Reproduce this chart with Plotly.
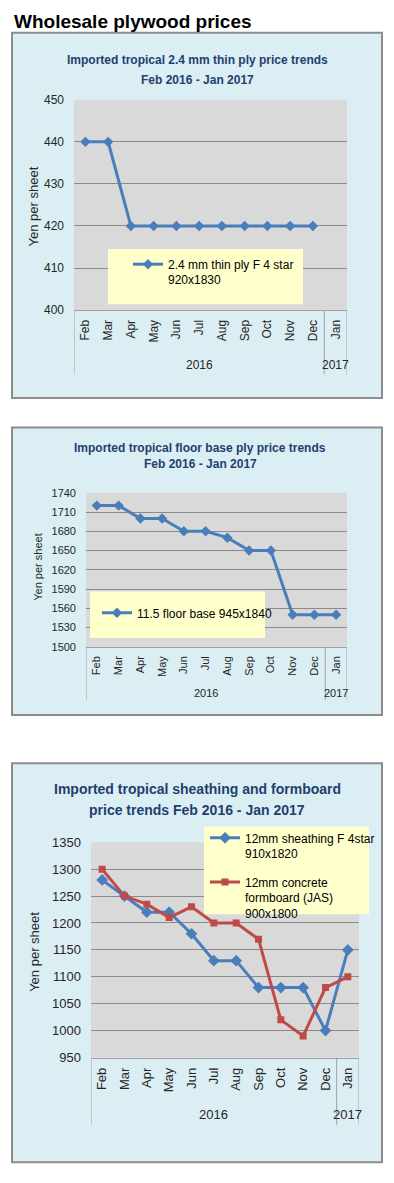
import plotly.graph_objects as go

# ---------------- data ----------------
months = ["Feb", "Mar", "Apr", "May", "Jun", "Jul", "Aug", "Sep", "Oct", "Nov", "Dec", "Jan"]
year_labels = ["2016", "2017"]
thin_ply = [440, 440, 420, 420, 420, 420, 420, 420, 420, 420, 420, None]
floor_base = [1720, 1720, 1700, 1700, 1680, 1680, 1670, 1650, 1650, 1550, 1550, 1550]
sheathing = [1280, 1250, 1220, 1220, 1180, 1130, 1130, 1080, 1080, 1080, 1000, 1150]
formboard = [1300, 1250, 1235, 1210, 1230, 1200, 1200, 1170, 1020, 990, 1080, 1100]

W, H = 394, 1183
def px(x): return x / W
def py(y): return 1 - y / H

FONT = "Liberation Sans, Arial, sans-serif"
BFONT = "Liberation Sans, Arial, sans-serif"
BLUE = "#4A7EBB"
RED = "#BE4B48"
TITLE_C = "#1F3F6E"
BOX_BG = "#DBEEF4"
PLOT_BG = "#D9D9D9"
GRID = "#8A8A8A"
TXT = "#262626"

charts = [
    dict(box=(12, 26, 382, 396), plot=(74, 94, 347, 307), yr=(400, 450), dt=10,
         title=["Imported tropical 2.4 mm thin ply price trends", "Feb 2016 - Jan 2017"],
         ty=(54, 74), tx=198, tsize=12, tick=12, mtick=12,
         leg=(108, 245, 303, 301), legpos=(128, 246), legsize=12,
         year_y=363, line_bot=372, ytitle=(33, 202), ysize=13,
         series=[("2.4 mm thin ply F 4 star<br>920x1830", thin_ply, BLUE, "diamond", 8)]),
    dict(box=(12, 426, 382, 717), plot=(86, 492, 347, 648), yr=(1500, 1740), dt=30,
         title=["Imported tropical floor base ply price trends", "Feb 2016 - Jan 2017"],
         ty=(447, 463), tx=200, tsize=12, tick=11, mtick=11,
         leg=(90, 592, 265, 639), legpos=(97, 599), legsize=12,
         year_y=695, line_bot=702, ytitle=(38, 568), ysize=11,
         series=[("11.5 floor base 945x1840", floor_base, BLUE, "diamond", 8)]),
    dict(box=(12, 766, 382, 1170), plot=(91, 846, 359, 1064), yr=(950, 1350), dt=50,
         title=["Imported tropical sheathing and formboard", "price trends Feb 2016 - Jan 2017"],
         ty=(792, 813), tx=197, tsize=14, tick=13, mtick=13,
         leg=(204, 830, 369, 919), legpos=(205, 827), legsize=12,
         year_y=1122, line_bot=1132, ytitle=(35, 957), ysize=13,
         series=[("12mm sheathing F 4star<br>910x1820", sheathing, BLUE, "diamond", 9),
                 ("12mm concrete<br>formboard (JAS)<br>900x1800", formboard, RED, "square", 7)]),
]

fig = go.Figure()
shapes = []
annotations = [dict(text="<b>Wholesale plywood prices</b>", x=px(12), y=py(15), xref="paper", yref="paper",
                    xanchor="left", yanchor="middle", showarrow=False,
                    font=dict(family="Liberation Sans, Arial, sans-serif", size=19, color="#000000"))]
layout = {}

for i, c in enumerate(charts):
    n = "" if i == 0 else str(i + 1)
    xa, ya = "x" + n, "y" + n
    legname = "legend" + n
    bx0, by0, bx1, by1 = c["box"]
    x0, y0, x1, y1 = c["plot"]
    # outer chart box
    shapes.append(dict(type="rect", xref="paper", yref="paper", layer="below",
                       x0=px(bx0), x1=px(bx1), y0=py(by0), y1=py(by1),
                       fillcolor=BOX_BG, line=dict(color="#8C8C8C", width=2)))
    # grey plot area
    shapes.append(dict(type="rect", xref=xa + " domain", yref=ya + " domain", layer="below",
                       x0=0, x1=1, y0=0, y1=1, fillcolor=PLOT_BG, line=dict(width=0)))
    # category-axis boundary lines (left, year divider, right)
    for xv in (-0.5, 10.5, 11.5):
        shapes.append(dict(type="line", xref=xa, yref="paper", x0=xv, x1=xv,
                           y0=py(y1), y1=py(c["line_bot"]), line=dict(color="#A0A0A0", width=1)))
    # yellow legend box
    lx0, ly0, lx1, ly1 = c["leg"]
    shapes.append(dict(type="rect", xref="paper", yref="paper", layer="above",
                       x0=px(lx0), x1=px(lx1), y0=py(ly0), y1=py(ly1),
                       fillcolor="#FFFFCC", line=dict(width=0)))
    # chart title
    for t, yy in zip(c["title"], c["ty"]):
        annotations.append(dict(text="<b>" + t + "</b>", x=px(c["tx"]), y=py(yy), xref="paper", yref="paper",
                                xanchor="center", yanchor="middle", showarrow=False,
                                font=dict(family=BFONT, size=c["tsize"], color=TITLE_C)))
    # year labels
    for lab, cat in zip(year_labels, [5, "Jan"]):
        annotations.append(dict(text=lab, x=cat, xref=xa, y=py(c["year_y"]), yref="paper",
                                xanchor="center", yanchor="middle", showarrow=False,
                                font=dict(family=FONT, size=c["mtick"], color=TXT)))
    # y-axis title
    annotations.append(dict(text="Yen per sheet", x=px(c["ytitle"][0]), y=py(c["ytitle"][1]),
                            xref="paper", yref="paper", textangle=-90, showarrow=False,
                            xanchor="center", yanchor="middle",
                            font=dict(family=FONT, size=c["ysize"], color=TXT)))
    # axes
    layout["xaxis" + n] = dict(domain=[px(x0), px(x1)], anchor=ya, type="category",
                               categoryorder="array", categoryarray=months, range=[-0.5, 11.5],
                               tickangle=-90, showgrid=False, showline=True, linecolor="#A0A0A0",
                               ticks="", tickfont=dict(family=FONT, size=c["mtick"], color=TXT),
                               ticklabelstandoff=4, fixedrange=True)
    layout["yaxis" + n] = dict(domain=[py(y1), py(y0)], anchor=xa, range=list(c["yr"]), dtick=c["dt"],
                               tick0=c["yr"][0], showgrid=True, gridcolor=GRID, gridwidth=1,
                               zeroline=False, showline=False, ticks="",
                               tickfont=dict(family=FONT, size=c["tick"], color=TXT),
                               ticklabelstandoff=9, fixedrange=True)
    layout[legname] = dict(x=px(c["legpos"][0]), y=py(c["legpos"][1]), xanchor="left", yanchor="top",
                           bgcolor="rgba(0,0,0,0)", font=dict(family=FONT, size=c["legsize"], color="#000000"),
                           valign="top", tracegroupgap=10, itemwidth=30)
    for k, (name, vals, col, sym, ms) in enumerate(c["series"]):
        fig.add_trace(go.Scatter(x=months, y=vals, name=name, mode="lines+markers",
                                 xaxis=xa, yaxis=ya, legend=legname, legendgroup=f"g{i}_{k}",
                                 line=dict(color=col, width=3),
                                 marker=dict(color=col, symbol=sym, size=ms),
                                 connectgaps=False))

fig.update_layout(width=W, height=H, margin=dict(l=0, r=0, t=0, b=0),
                  paper_bgcolor="#FFFFFF", plot_bgcolor="rgba(0,0,0,0)",
                  shapes=shapes, annotations=annotations, showlegend=True, **layout)
fig.write_html("out.html", config={"displayModeBar": False},
               post_script="document.body.style.margin='0';document.body.style.overflow='hidden';")
